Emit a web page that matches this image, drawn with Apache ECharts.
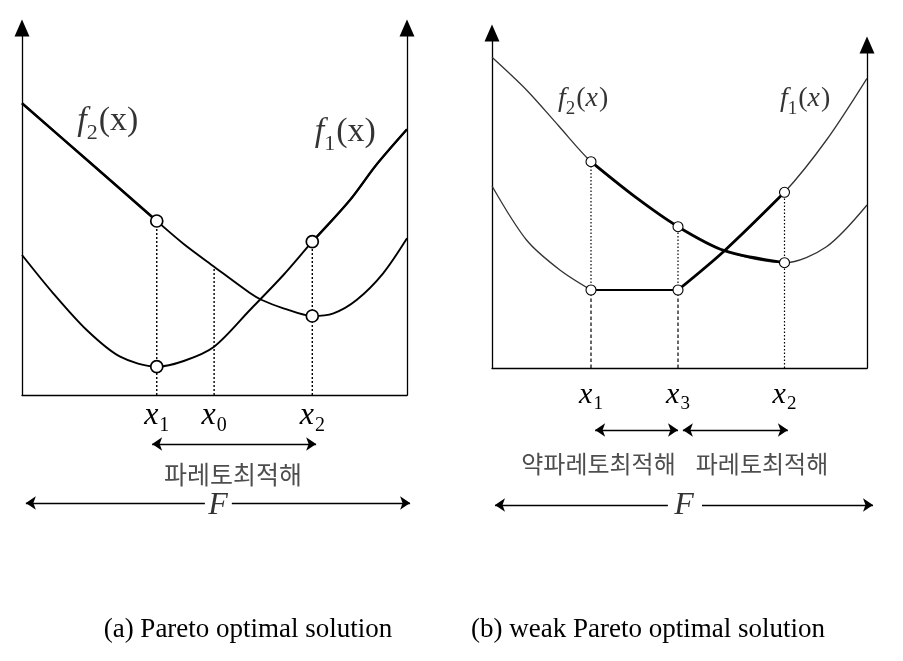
<!DOCTYPE html>
<html>
<head>
<meta charset="utf-8">
<script src="https://cdn.jsdelivr.net/npm/echarts@6/dist/echarts.min.js"></script>
<style>html,body{margin:0;padding:0;background:#fff}#c{width:903px;height:661px}</style>
</head>
<body>
<div id="c"></div>
<script>
// ---------- Panel (a) data ----------
const A_f1 = [[0,140],[8.1,101.7],[16.8,65],[25.5,38.3],[35,28.3],[42,34],[49.9,48.3],[59.2,85],[67.9,120],[75.4,153.3],[85.2,195],[92,230],[100,265.7]];
const A_f2 = [[0,291.7],[17.5,233],[35,174],[42,151],[49.9,128.3],[59.2,102],[62.3,95],[67.9,86.7],[75.4,79],[80.9,81.7],[86.9,95],[93.8,121.7],[100,156.7]];
const A_points = [[35,174],[35,28.3],[75.4,153.3],[75.4,79]];
const A_guides = [[35,174],[49.9,128.3],[75.4,153.3]];
const A_ticks = [35,49.9,75.4];
const A_tickSubs = ['1','0','2'];
const A_fLabels = [[22.3,273,'2'],[84,262,'1']];
const A_range = [[33.8,76],[76.4,76]];
const A_rangeText = [[54.8,46,'파레토최적해']];
const A_F = [[[1.0,17],[47.5,17]],[[54.5,17],[100.8,17]]];
const A_Ftext = [[50.9,14,'F']];

// ---------- Panel (b) data ----------
const B_f2 = [[0,310.7],[9.2,278],[17.8,242],[26.4,206.3],[38.1,171.3],[49.6,141.3],[62,117.3],[78,105.3],[89.2,121.3],[100,163]];
const B_f1_left = [[0,182],[9.2,128],[18.1,98],[26.4,78]];
const B_f1_flat = [[26.4,78],[49.6,78]];
const B_f1_right = [[49.6,78],[62,117.3],[78,175.7],[89.2,228],[100,289.7]];
const B_points = [[26.4,206.3],[26.4,78],[49.6,141.3],[49.6,78],[78,175.7],[78,105.3]];
const B_dotted = [[[26.4,78],[26.4,206.3]],[[49.6,78],[49.6,141.3]],[[78,0],[78,175.7]]];
const B_dashed = [[[26.4,0],[26.4,78]],[[49.6,0],[49.6,78]]];
const B_ticks = [26.4,49.6,78];
const B_tickSubs = ['1','3','2'];
const B_fLabels = [[24.3,268,'2'],[83.5,268,'1']];
const B_ranges = [[[27.5,90],[49.6,90]],[[50.9,90],[78.9,90]]];
const B_rangeText = [[28.4,56.5,'약파레토최적해'],[72.0,56.5,'파레토최적해']];
const B_F = [[[0.8,15],[46.9,15]],[[56,15],[101.6,15]]];
const B_Ftext = [[51.2,14,'F']];

const captions = ['(a) Pareto optimal solution','(b) weak Pareto optimal solution'];

const SERIF = '"Liberation Serif","Times New Roman",serif';
const KR = '"Noto Sans CJK KR","Noto Sans",sans-serif';

function tickRich(size, sub) {
  return {
    x: {fontFamily: SERIF, fontStyle: 'italic', fontSize: size, lineHeight: size + 2, verticalAlign: 'top', color: '#000'},
    s: {fontFamily: SERIF, fontSize: sub, lineHeight: sub, padding: [Math.round(size * 0.5), 0, 0, 1], verticalAlign: 'top', color: '#000'}
  };
}
function fRich(size, sub) {
  return {
    f: {fontFamily: SERIF, fontStyle: 'italic', fontSize: size, lineHeight: size + 2, verticalAlign: 'top', color: '#000'},
    s: {fontFamily: SERIF, fontSize: sub, lineHeight: sub, padding: [Math.round(size * 0.52), 0, 0, 0], verticalAlign: 'top', color: '#000'},
    p: {fontFamily: SERIF, fontSize: size, lineHeight: size + 2, verticalAlign: 'top', color: '#000', padding: [0, 0, 0, 1]},
    xi: {fontFamily: SERIF, fontStyle: 'italic', fontSize: size, lineHeight: size + 2, verticalAlign: 'top', color: '#000'}
  };
}

function hiddenY(grid, max) {
  return {type: 'value', gridIndex: grid, min: 0, max: max, show: false};
}
function hiddenX(grid) {
  return {type: 'value', gridIndex: grid, min: 0, max: 100, show: false};
}
function visY(grid, max, pos) {
  return {type: 'value', gridIndex: grid, min: 0, max: max, position: pos,
    axisLine: {show: true, onZero: false, symbol: ['none', 'triangle'], symbolSize: [15, 17], lineStyle: {color: '#000', width: 1.3}},
    axisTick: {show: false}, axisLabel: {show: false}, splitLine: {show: false}};
}
function tickX(grid, ticks, subs, size, sub, margin) {
  return {type: 'value', gridIndex: grid, min: 0, max: 100,
    axisLine: {show: true, onZero: false, lineStyle: {color: '#000', width: 1.3}},
    axisTick: {show: false}, splitLine: {show: false},
    axisLabel: {show: true, customValues: ticks, margin: margin,
      formatter: function (v) {
        let i = 0, best = 1e9;
        ticks.forEach(function (t, k) { if (Math.abs(t - v) < best) { best = Math.abs(t - v); i = k; } });
        return '{x|x}{s|' + subs[i] + '}';
      },
      rich: tickRich(size, sub)}};
}

function curve(data, x, y, width, color) {
  return {type: 'line', xAxisIndex: x, yAxisIndex: y, data: data, smooth: 0.3, showSymbol: false, symbol: 'none',
    lineStyle: {color: color || '#000', width: width}, z: 3};
}
function straight(data, x, y, width, type, z) {
  return {type: 'line', xAxisIndex: x, yAxisIndex: y, data: data, smooth: false, showSymbol: false, symbol: 'none',
    lineStyle: {color: '#000', width: width, type: type}, z: z || 2};
}
function circles(data, x, y, size, bw) {
  return {type: 'scatter', xAxisIndex: x, yAxisIndex: y, data: data, symbol: 'circle', symbolSize: size,
    itemStyle: {color: '#fff', borderColor: '#000', borderWidth: bw, opacity: 1}, z: 10};
}
function textMarks(data, x, y, fmt, rich, extra) {
  const label = Object.assign({show: true, position: 'inside', formatter: function (p) { return fmt(p.data.raw); }}, extra || {});
  if (rich) label.rich = rich;
  return {type: 'scatter', xAxisIndex: x, yAxisIndex: y, data: data.map(function (d) { return {value: [d[0], d[1]], raw: d[2]}; }),
    symbol: 'circle', symbolSize: 1, itemStyle: {color: 'rgba(0,0,0,0)'}, z: 12, label: label};
}
function arrows(list, x, y, syms) {
  return {type: 'lines', coordinateSystem: 'cartesian2d', xAxisIndex: x, yAxisIndex: y, polyline: false, clip: false,
    symbol: syms, symbolSize: 10,
    data: list.map(function (c) { return {coords: c}; }),
    lineStyle: {color: '#000', width: 1.3, opacity: 1, curveness: 0}, z: 5};
}

const series = [];
// Panel (a)
A_guides.forEach(function (g) { series.push(straight([[g[0], 0], [g[0], g[1]]], 0, 0, 1.4, [2, 2])); });
series.push(curve(A_f1, 0, 0, 1.9));
series.push(curve(A_f1.slice(9), 0, 0, 2.3));
series.push(curve(A_f2, 0, 0, 1.9));
series.push(curve(A_f2.slice(0, 3), 0, 0, 2.5));
series.push(circles(A_points, 0, 0, 12, 1.7));
series.push(textMarks(A_fLabels, 0, 0, function (s) { return '{f|f}{s|' + s + '}{p|(x)}'; }, fRich(34, 22)));
series.push(arrows([A_range], 1, 2, ['arrow', 'arrow']));
series.push(arrows([A_F[0]], 1, 2, ['arrow', 'none']));
series.push(arrows([A_F[1]], 1, 2, ['none', 'arrow']));
series.push(textMarks(A_rangeText, 1, 2, function (s) { return s; }, null, {fontFamily: KR, fontSize: 25, color: '#222'}));
series.push(textMarks(A_Ftext, 1, 2, function (s) { return '{F|' + s + '}'; }, {F: {fontFamily: SERIF, fontStyle: 'italic', fontSize: 32, color: '#000'}}));

// Panel (b)
B_dotted.forEach(function (s) { series.push(straight(s, 2, 3, 1.2, [1.5, 2])); });
B_dashed.forEach(function (s) { series.push(straight(s, 2, 3, 1.2, [3.5, 2.5])); });
series.push(curve(B_f2, 2, 3, 1.3, '#333'));
series.push(curve(B_f2.slice(3, 8), 2, 3, 2.8));
series.push(curve(B_f1_left, 2, 3, 1.3, '#333'));
series.push(straight(B_f1_flat, 2, 3, 2.2, 'solid', 3));
series.push(curve(B_f1_right, 2, 3, 1.3, '#333'));
series.push(curve(B_f1_right.slice(0, 3), 2, 3, 2.8));
series.push(circles(B_points, 2, 3, 10, 1.1));
series.push(textMarks(B_fLabels, 2, 3, function (s) { return '{f|f}{s|' + s + '}{p|(}{xi|x}{p|)}'; }, fRich(28, 19)));
series.push(arrows(B_ranges, 4, 5, ['arrow', 'arrow']));
series.push(arrows([B_F[0]], 4, 5, ['arrow', 'none']));
series.push(arrows([B_F[1]], 4, 5, ['none', 'arrow']));
series.push(textMarks(B_rangeText, 4, 5, function (s) { return s; }, null, {fontFamily: KR, fontSize: 24, color: '#222'}));
series.push(textMarks(B_Ftext, 4, 5, function (s) { return '{F|' + s + '}'; }, {F: {fontFamily: SERIF, fontStyle: 'italic', fontSize: 32, color: '#000'}}));

const option = {
  animation: false,
  backgroundColor: '#fff',
  grid: [
    {left: 22, top: 28, width: 385, height: 367},
    {left: 22, top: 420, width: 385, height: 100},
    {left: 492, top: 33, width: 375, height: 335},
    {left: 492, top: 45, width: 375, height: 323},
    {left: 492, top: 420, width: 375, height: 100}
  ],
  xAxis: [
    tickX(0, A_ticks, A_tickSubs, 32, 20, 5),
    hiddenX(1),
    tickX(2, B_ticks, B_tickSubs, 30, 19, 12),
    hiddenX(3),
    hiddenX(4)
  ],
  yAxis: [
    visY(0, 367, 'left'),
    visY(0, 367, 'right'),
    hiddenY(1, 100),
    visY(2, 335, 'left'),
    visY(3, 323, 'right'),
    hiddenY(4, 100)
  ],
  series: series,
  graphic: [
    {type: 'text', x: 248, y: 630, silent: true, style: {text: captions[0], align: 'center', verticalAlign: 'middle', fontFamily: SERIF, fontSize: 27, fill: '#000'}},
    {type: 'text', x: 648, y: 630, silent: true, style: {text: captions[1], align: 'center', verticalAlign: 'middle', fontFamily: SERIF, fontSize: 27, fill: '#000'}}
  ]
};
const chart = echarts.init(document.getElementById('c'), null, {renderer: 'canvas'});
chart.setOption(option);
</script>
</body>
</html>
